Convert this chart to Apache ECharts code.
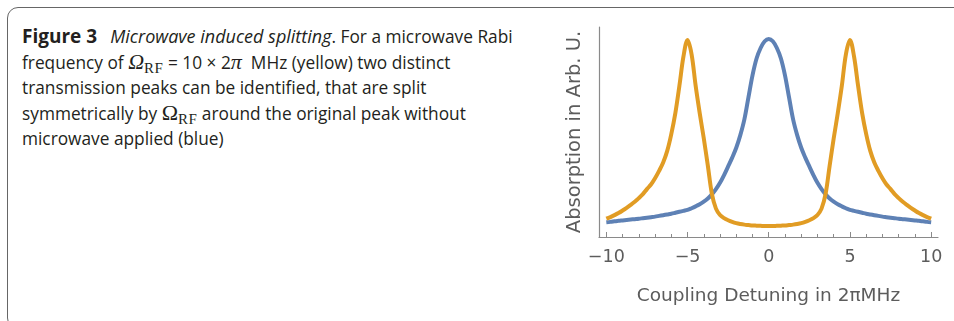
<!DOCTYPE html>
<html>
<head>
<meta charset="utf-8">
<script src="https://cdn.jsdelivr.net/npm/echarts@6/dist/echarts.min.js"></script>
<style>
  html, body { margin: 0; padding: 0; background: #fff; width: 954px; height: 321px; overflow: hidden; }
  #chart { position: absolute; left: 0; top: 0; width: 954px; height: 321px; }
  #box { position: absolute; left: 7px; top: 7px; width: 1100px; height: 322px; border: 1.3px solid #666; border-radius: 11px; box-sizing: border-box; }
  #caption { position: absolute; left: 22px; top: 24px; font-family: "Open Sans", sans-serif; font-size: 17.3px; line-height: 24.6px; color: #231f20; white-space: nowrap; }
  #caption b { font-size: 19px; }
  #caption i { font-size: 18px; }
  .m { font-family: "Liberation Serif", "DejaVu Serif", serif; font-size: 22px; }
  .mi { font-family: "Liberation Serif", "DejaVu Serif", serif; font-style: italic; font-size: 22px; }
  .sub { font-family: "Liberation Serif", "DejaVu Serif", serif; font-size: 15px; position: relative; top: 4px; letter-spacing: 0.5px; }
</style>
</head>
<body>
<div id="box"></div>
<div id="caption"><b>Figure 3</b>&ensp; <i>Microwave induced splitting</i>. For a microwave Rabi<br>frequency of <span class="mi">Ω</span><span class="sub">RF</span> = 10 × 2<span class="mi">π</span>&nbsp; MHz (yellow) two distinct<br>transmission peaks can be identified, that are split<br>symmetrically by <span class="m">Ω</span><span class="sub">RF</span> around the original peak without<br>microwave applied (blue)</div>
<div id="chart"></div>
<script>
// ---- data (x step 0.25, from -10 to 10) ----
const detuning = [];
for (let i = -40; i <= 40; i++) detuning.push(i / 4);

// blue: no microwave (absorption, arb. units)
const blueY = [
  0.07, 0.072, 0.0745, 0.077, 0.079, 0.081, 0.083, 0.085, 0.087, 0.0895, 0.092, 0.0945, 0.097, 0.1005, 0.104, 0.1075,
  0.111, 0.1155, 0.12, 0.1245, 0.129, 0.137, 0.146, 0.156, 0.168, 0.183, 0.203, 0.228, 0.258, 0.295, 0.336, 0.378,
  0.425, 0.485, 0.56, 0.665, 0.77, 0.85, 0.9, 0.932, 0.943,
  0.932, 0.9, 0.85, 0.77, 0.665, 0.56, 0.485, 0.425, 0.378, 0.336, 0.295, 0.258, 0.228, 0.203, 0.183, 0.168,
  0.156, 0.146, 0.137, 0.129, 0.1245, 0.12, 0.1155, 0.111, 0.1075, 0.104, 0.1005, 0.097, 0.0945, 0.092, 0.0895,
  0.087, 0.085, 0.083, 0.081, 0.079, 0.077, 0.0745, 0.072, 0.07
];

// yellow: microwave Rabi frequency 10 x 2pi MHz
const yellowY = [
  0.087, 0.095, 0.104, 0.114, 0.126, 0.139, 0.153, 0.168, 0.185, 0.204, 0.228, 0.25, 0.28, 0.315, 0.355, 0.41,
  0.49, 0.59, 0.72, 0.86, 0.938, 0.87, 0.72, 0.59, 0.47, 0.34, 0.205, 0.135, 0.105, 0.09, 0.08, 0.072,
  0.066, 0.062, 0.059, 0.057, 0.055, 0.054, 0.053, 0.052, 0.052,
  0.052, 0.053, 0.054, 0.055, 0.057, 0.059, 0.062, 0.066, 0.072, 0.08, 0.09, 0.105, 0.135, 0.205, 0.34, 0.47,
  0.59, 0.72, 0.87, 0.938, 0.86, 0.72, 0.59, 0.49, 0.41, 0.355, 0.315, 0.28, 0.25, 0.228, 0.204,
  0.185, 0.168, 0.153, 0.139, 0.126, 0.114, 0.104, 0.095, 0.087
];

const majorTicks = [-10, -5, 0, 5, 10];
const minorTicks = [-9, -8, -7, -6, -4, -3, -2, -1, 1, 2, 3, 4, 6, 7, 8, 9];

const xTitle = 'Coupling Detuning in 2πMHz';
const yTitle = 'Absorption in Arb. U.';

// ---- chart ----
const pairs = (xs, ys) => xs.map((x, i) => [x, ys[i]]);
const axisGray = '#8a8a8a';
const textGray = '#5c5c5c';
const font = '"DejaVu Sans", sans-serif';

const chart = echarts.init(document.getElementById('chart'), null, { renderer: 'canvas' });
chart.setOption({
  animation: false,
  backgroundColor: 'transparent',
  grid: { left: 599, right: 16, top: 27, bottom: 84, containLabel: false },
  xAxis: [
    {
      type: 'value', min: -10.45, max: 10.42,
      axisLine: { show: true, onZero: false, lineStyle: { color: axisGray, width: 1.2 } },
      axisTick: { show: true, inside: true, length: 5, customValues: majorTicks, lineStyle: { color: axisGray, width: 1 } },
      axisLabel: { show: true, customValues: majorTicks, margin: 11, color: textGray, fontSize: 17.5, fontFamily: font,
                   formatter: v => (v < 0 ? '\u2212' + Math.abs(v) : String(v)) },
      splitLine: { show: false },
      name: xTitle, nameLocation: 'middle', nameGap: 50,
      nameTextStyle: { color: textGray, fontSize: 18.5, fontFamily: font }
    },
    {
      type: 'value', min: -10.45, max: 10.42, position: 'bottom',
      axisLine: { show: false, onZero: false },
      axisTick: { show: true, inside: true, length: 3, customValues: minorTicks, lineStyle: { color: axisGray, width: 1 } },
      axisLabel: { show: false },
      splitLine: { show: false }
    }
  ],
  yAxis: {
    type: 'value', min: 0, max: 1,
    axisLine: { show: true, onZero: false, lineStyle: { color: axisGray, width: 1.2 } },
    axisTick: { show: false },
    axisLabel: { show: false },
    splitLine: { show: false },
    name: yTitle, nameLocation: 'middle', nameGap: 14, nameRotate: 90,
    nameTextStyle: { color: textGray, fontSize: 19.5, fontFamily: font }
  },
  series: [
    { type: 'line', name: 'blue', data: pairs(detuning, blueY), smooth: 0.35, showSymbol: false, symbol: 'none',
      lineStyle: { color: '#5E81B5', width: 4 }, clip: false },
    { type: 'line', name: 'yellow', data: pairs(detuning, yellowY), smooth: 0.35, showSymbol: false, symbol: 'none',
      lineStyle: { color: '#E19C24', width: 4 }, clip: false }
  ]
});
</script>
</body>
</html>
